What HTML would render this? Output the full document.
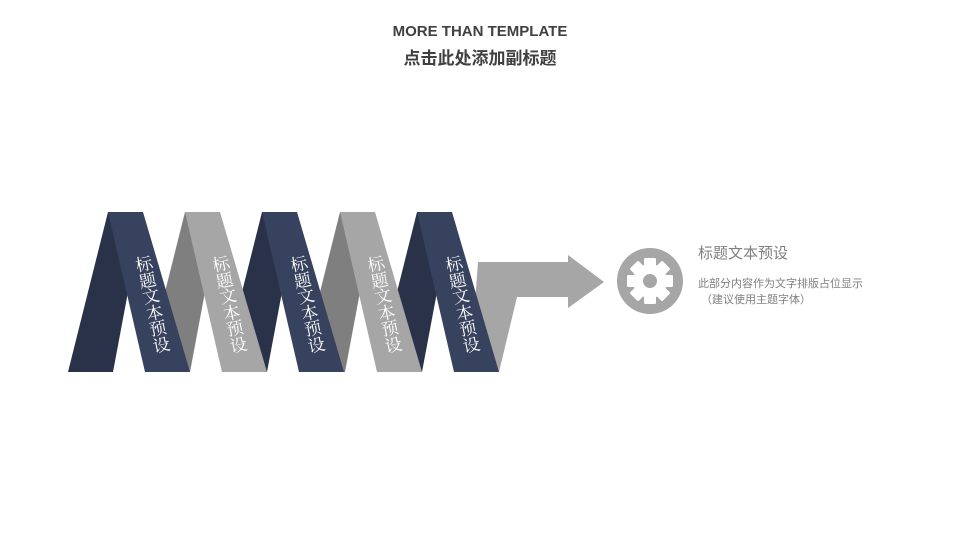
<!DOCTYPE html>
<html><head><meta charset="utf-8"><style>
html,body{margin:0;padding:0;background:#fff;}
body{width:960px;height:540px;position:relative;overflow:hidden;font-family:"Liberation Sans","Noto Sans CJK SC",sans-serif;}
.t1{position:absolute;top:23px;left:0;width:960px;text-align:center;font-size:15px;font-weight:bold;color:#404040;}
.t2{position:absolute;top:44px;left:0;width:960px;text-align:center;font-size:17px;font-weight:bold;color:#404040;}
.col{position:absolute;width:20px;font-family:"Liberation Serif","Noto Serif CJK SC",serif;font-size:17px;line-height:16.5px;color:#fff;text-align:center;transform:rotate(-12deg);transform-origin:center;}
</style></head><body>
<div class="t1">MORE THAN TEMPLATE</div>
<div class="t2">点击此处添加副标题</div>
<svg width="960" height="540" style="position:absolute;left:0;top:0">
<polygon points="478,262 568,262 568,255 604,282 568,308 568,297 517,297 499,372 470,372" fill="#a6a6a6"/>
<polygon points="108,212 143,212 113,372 68,372" fill="#2a3249"/>
<polygon points="185,212 220,212 190,372 145,372" fill="#7f7f7f"/>
<polygon points="262,212 297,212 267,372 222,372" fill="#2a3249"/>
<polygon points="340,212 375,212 345,372 300,372" fill="#7f7f7f"/>
<polygon points="417,212 452,212 422,372 377,372" fill="#2a3249"/>
<polygon points="108,212 143,212 190,372 145,372" fill="#37425e"/>
<polygon points="185,212 220,212 267,372 222,372" fill="#a6a6a6"/>
<polygon points="262,212 297,212 344,372 299,372" fill="#37425e"/>
<polygon points="340,212 375,212 422,372 377,372" fill="#a6a6a6"/>
<polygon points="417,212 452,212 499,372 454,372" fill="#37425e"/>
<circle cx="650" cy="281" r="33" fill="#a6a6a6"/>
<g transform="translate(650,281)" fill="#fff">
<circle r="17"/>
<rect x="-6" y="-23" width="12" height="46" rx="1.5"/>
<rect x="-6" y="-23" width="12" height="46" rx="1.5" transform="rotate(45)"/>
<rect x="-6" y="-23" width="12" height="46" rx="1.5" transform="rotate(90)"/>
<rect x="-6" y="-23" width="12" height="46" rx="1.5" transform="rotate(135)"/>
<circle r="7" fill="#a6a6a6"/>
</g>
</svg>
<div class="col" style="left:143px;top:256px">标<br>题<br>文<br>本<br>预<br>设</div>
<div class="col" style="left:220px;top:256px">标<br>题<br>文<br>本<br>预<br>设</div>
<div class="col" style="left:298px;top:256px">标<br>题<br>文<br>本<br>预<br>设</div>
<div class="col" style="left:375px;top:256px">标<br>题<br>文<br>本<br>预<br>设</div>
<div class="col" style="left:453px;top:256px">标<br>题<br>文<br>本<br>预<br>设</div>
<div style="position:absolute;left:698px;top:242px;font-size:15px;color:#7f7f7f;">标题文本预设</div>
<div style="position:absolute;left:698px;top:276px;font-size:11px;line-height:16px;color:#7f7f7f;">此部分内容作为文字排版占位显示<br>&nbsp;（建议使用主题字体）</div>
</body></html>
